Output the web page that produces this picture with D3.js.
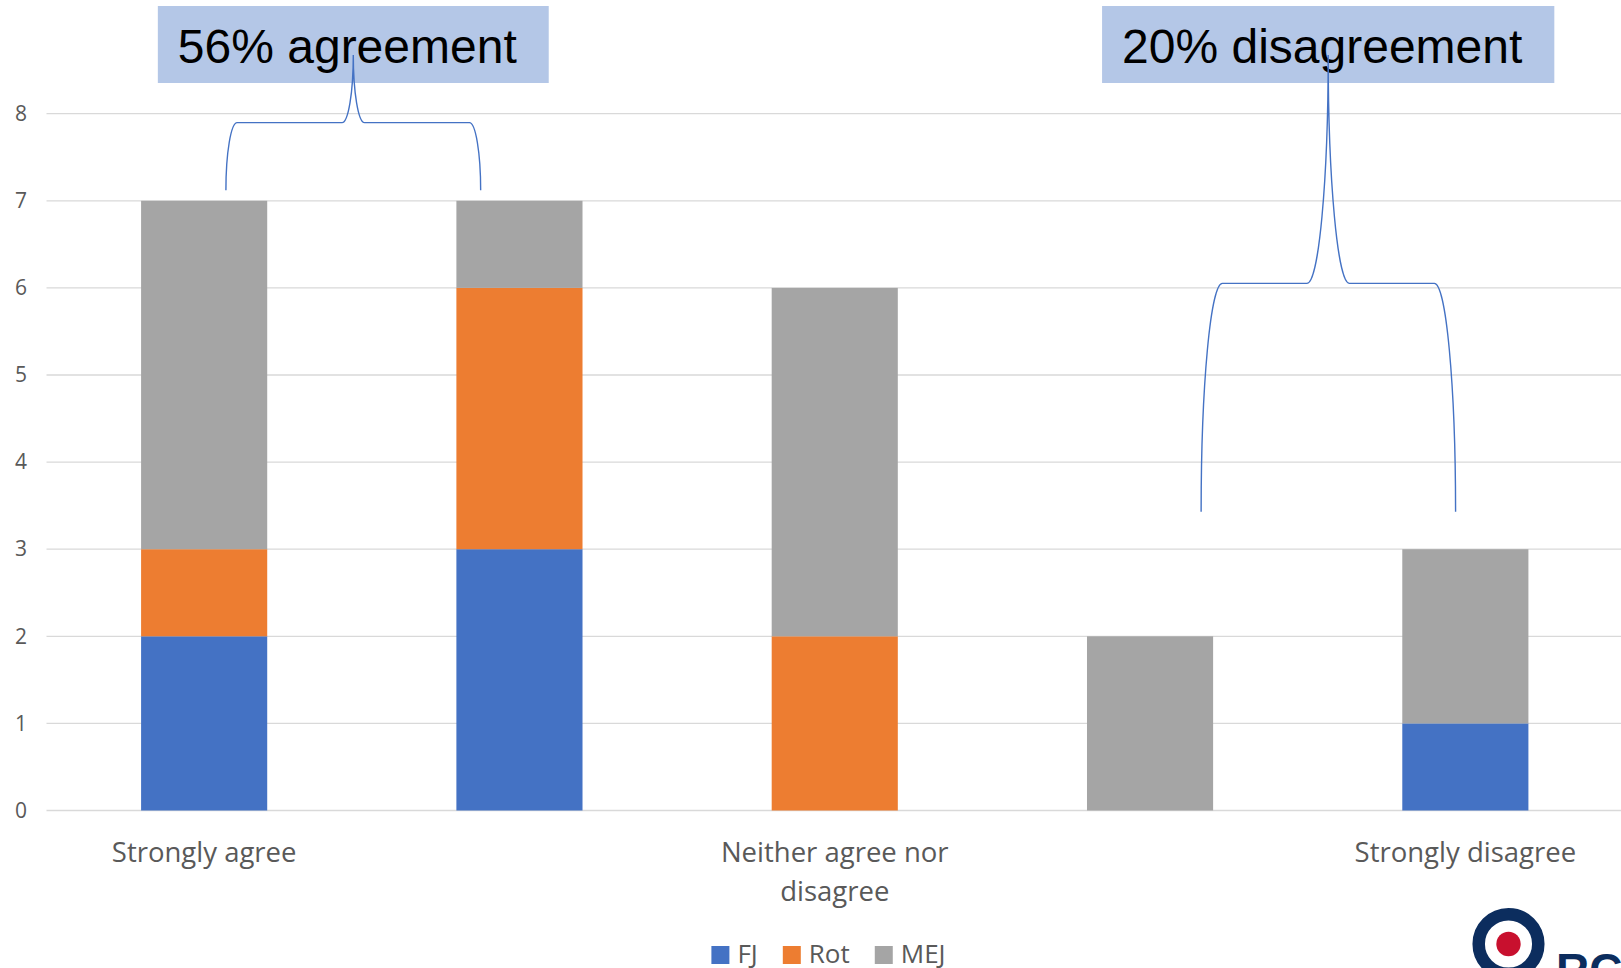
<!DOCTYPE html>
<html>
<head>
<meta charset="utf-8">
<script src="https://cdn.jsdelivr.net/npm/d3@7"></script>
<style>
  html, body { margin: 0; padding: 0; background: #ffffff; overflow: hidden; }
  svg { display: block; }
</style>
</head>
<body>
<svg id="chart" width="1621" height="968"></svg>
<script>
// Survey responses, stacked by group
const categories = ["Strongly agree", "Agree", "Neither agree nor disagree", "Disagree", "Strongly disagree"];
const seriesNames = ["FJ", "Rot", "MEJ"];
const fjValues  = [2, 3, 0, 0, 1];
const rotValues = [1, 3, 2, 0, 0];
const mejValues = [4, 1, 4, 2, 2];
const seriesColors = ["#4472C4", "#ED7D31", "#A5A5A5"];
const yTicks = [0, 1, 2, 3, 4, 5, 6, 7, 8];

// Summary callouts: share of all responses in the bracketed categories
const agreeShare = "56% agreement";
const disagreeShare = "20% disagreement";

const svg = d3.select("#chart");
const W = 1621, H = 968;

const plot = { left: 46.5, right: 1623, top: 113.7, bottom: 810.5 };

const rows = categories.map((c, i) => ({
  category: c,
  FJ: fjValues[i],
  Rot: rotValues[i],
  MEJ: mejValues[i]
}));

const x = d3.scaleBand()
  .domain(categories)
  .range([plot.left, plot.right])
  .paddingInner(0.6)
  .paddingOuter(0.3);

// continuous position across the category slots (slot centres at 0..4)
const xPos = d3.scaleLinear()
  .domain([-0.5, categories.length - 0.5])
  .range([plot.left, plot.right]);

const y = d3.scaleLinear().domain([0, 8]).range([plot.bottom, plot.top]);

const color = d3.scaleOrdinal().domain(seriesNames).range(seriesColors);

// gridlines
svg.append("g")
  .selectAll("line")
  .data(yTicks)
  .join("line")
  .attr("x1", plot.left)
  .attr("x2", W)
  .attr("y1", d => y(d))
  .attr("y2", d => y(d))
  .attr("stroke", "#d9d9d9")
  .attr("stroke-width", 1.3);

// y axis labels
const yAxis = d3.axisLeft(y).tickValues(yTicks).tickSize(0).tickPadding(0);
const yG = svg.append("g")
  .attr("transform", `translate(${27},0)`)
  .call(yAxis);
yG.select(".domain").remove();
yG.selectAll("text")
  .attr("font-family", "'Open Sans', sans-serif")
  .attr("font-size", 21)
  .attr("fill", "#595959");

// stacked bars
const stack = d3.stack().keys(seriesNames);
const layers = stack(rows);

svg.append("g")
  .selectAll("g")
  .data(layers)
  .join("g")
  .attr("fill", d => color(d.key))
  .selectAll("rect")
  .data(d => d)
  .join("rect")
  .attr("x", d => x(d.data.category))
  .attr("width", x.bandwidth())
  .attr("y", d => y(d[1]))
  .attr("height", d => y(d[0]) - y(d[1]));

// x axis labels (every other category shown)
const xAxis = d3.axisBottom(x)
  .tickSize(0)
  .tickPadding(0)
  .tickFormat((d, i) => (i % 2 === 0 ? d : ""));
const xG = svg.append("g")
  .attr("transform", `translate(0,${plot.bottom})`)
  .call(xAxis);
xG.select(".domain").remove();
xG.selectAll("text")
  .attr("font-family", "'Open Sans', sans-serif")
  .attr("font-size", 27.5)
  .attr("fill", "#595959")
  .attr("dy", null)
  .attr("y", 0)
  .each(function () {
    const t = d3.select(this);
    const words = t.text().split(/\s+/).filter(Boolean);
    if (!words.length) return;
    t.text(null);
    const maxW = x.step();
    const lineH = 39;
    let line = [];
    let lineNo = 0;
    let tspan = t.append("tspan").attr("x", 0).attr("y", 51.2);
    words.forEach(w => {
      line.push(w);
      tspan.text(line.join(" "));
      if (tspan.node().getComputedTextLength() > maxW && line.length > 1) {
        line.pop();
        tspan.text(line.join(" "));
        line = [w];
        lineNo += 1;
        tspan = t.append("tspan").attr("x", 0).attr("y", 51.2 + lineNo * lineH).text(w);
      }
    });
  });

// legend
const legend = svg.append("g");
const legendItems = legend.selectAll("g")
  .data(seriesNames)
  .join("g");
legendItems.append("rect")
  .attr("width", 18)
  .attr("height", 18)
  .attr("y", -17)
  .attr("fill", d => color(d));
legendItems.append("text")
  .attr("x", 26)
  .attr("y", 0)
  .attr("font-family", "'Open Sans', sans-serif")
  .attr("font-size", 26)
  .attr("fill", "#595959")
  .text(d => d);
const legendGap = 25;
let cursor = 0;
legendItems.each(function () {
  const g = d3.select(this);
  const tw = g.select("text").node().getComputedTextLength();
  g.attr("transform", `translate(${cursor},0)`);
  cursor += 26 + tw + legendGap;
});
const legendW = cursor - legendGap;
legend.attr("transform", `translate(${828.5 - legendW / 2},${963})`);

// braces grouping categories, with summary callouts
const braces = [
  { from: 0.069, to: 0.877, tip: 0.473, base: 7.12, top: 8.674, label: agreeShare },
  { from: 3.162, to: 3.969, tip: 3.565, base: 3.43, top: 8.674, label: disagreeShare }
];

function bracePath(x0, x1, xt, yb, yt) {
  const r = 0.08333 * Math.min(x1 - x0, yb - yt);
  const ym = (yb + yt) / 2;
  const ry1 = yb - ym, ry2 = ym - yt;
  return [
    `M${x0},${yb}`,
    `A${r},${ry1} 0 0 1 ${x0 + r},${ym}`,
    `L${xt - r},${ym}`,
    `A${r},${ry2} 0 0 0 ${xt},${yt}`,
    `A${r},${ry2} 0 0 0 ${xt + r},${ym}`,
    `L${x1 - r},${ym}`,
    `A${r},${ry1} 0 0 1 ${x1},${yb}`
  ].join(" ");
}

const callouts = svg.append("g");
braces.forEach(b => {
  const g = callouts.append("g");
  const box = g.append("rect").attr("fill", "#B4C7E7");
  const txt = g.append("text")
    .attr("font-family", "'Liberation Sans', Arial, sans-serif")
    .attr("font-size", 48)
    .attr("fill", "#000000")
    .attr("y", 63)
    .text(b.label);
  const tw = txt.node().getComputedTextLength();
  const bw = tw + 52;
  const bx = xPos(b.tip) - bw / 2;
  box.attr("x", bx).attr("y", 6).attr("width", bw).attr("height", 77);
  txt.attr("x", bx + 20);
  g.append("path")
    .attr("d", bracePath(xPos(b.from), xPos(b.to), xPos(b.tip), y(b.base), y(b.top)))
    .attr("fill", "none")
    .attr("stroke", "#4472C4")
    .attr("stroke-width", 1.4);
});

// organisation mark, bottom right
const logo = svg.append("g").attr("transform", "translate(1508.5,944)");
logo.append("circle").attr("r", 29.8).attr("fill", "#ffffff")
  .attr("stroke", "#0c2d5e").attr("stroke-width", 12.5);
logo.append("circle").attr("r", 12.2).attr("fill", "#c8102e");
svg.append("text")
  .attr("x", 1556)
  .attr("y", 986)
  .attr("font-family", "'Liberation Sans', Arial, sans-serif")
  .attr("font-weight", "bold")
  .attr("font-size", 46)
  .attr("fill", "#0c2d5e")
  .text("RC");
</script>
</body>
</html>
